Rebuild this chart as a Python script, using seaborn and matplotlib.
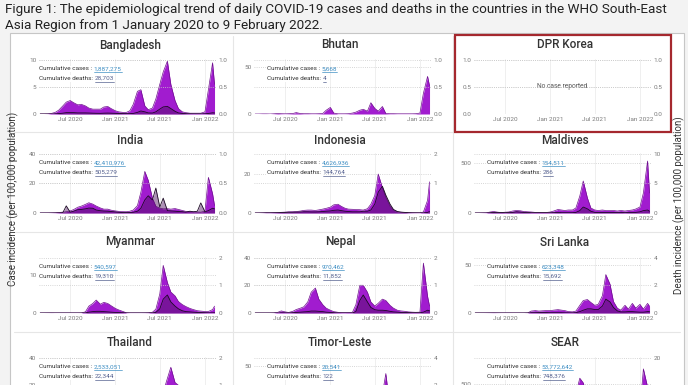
import numpy as np
import pandas as pd
import matplotlib
matplotlib.use("Agg")
import matplotlib.pyplot as plt
from matplotlib.patches import Rectangle
from matplotlib.lines import Line2D
import seaborn as sns

# semi-monthly sampling points, 1 Mar 2020 .. 9 Feb 2022 (48 points)
dates = pd.date_range("2020-03-01", "2022-02-01", freq="SMS").append(pd.DatetimeIndex(["2022-02-09"]))

# daily case incidence (per 100,000) and death incidence (per 100,000)
bangladesh_cases = [0, 0, 0.02, 0.1, 0.3, 0.7, 1.5, 2.2, 2.5, 2.1,
                    1.7, 1.8, 1.5, 1.1, 0.9, 0.9, 0.9, 1.3, 1.4, 1.0,
                    0.6, 0.4, 0.3, 0.3, 0.6, 1.8, 4.2, 4.5, 1.5, 0.8,
                    1.1, 2.8, 5.5, 7.8, 9.8, 5.5, 2.5, 1.0, 0.4, 0.25,
                    0.15, 0.15, 0.15, 0.15, 0.4, 4.5, 9.5, 5.5]
bangladesh_deaths = [0, 0, 0, 0, 0.002, 0.007, 0.015, 0.025, 0.025, 0.025,
                     0.02, 0.02, 0.02, 0.018, 0.015, 0.013, 0.012, 0.015, 0.017, 0.015,
                     0.012, 0.009, 0.007, 0.006, 0.006, 0.01, 0.03, 0.055, 0.04, 0.02,
                     0.018, 0.04, 0.09, 0.13, 0.14, 0.1, 0.05, 0.02, 0.01, 0.006,
                     0.004, 0.003, 0.003, 0.003, 0.003, 0.01, 0.022, 0.02]
bhutan_cases = [0, 0, 0.1, 0.1, 0, 0.2, 0.5, 0.3, 0.2, 0.3,
                0.5, 1.5, 0.5, 0.3, 0.3, 0.2, 0.2, 0.3, 0.5, 4,
                7, 1, 0.2, 0.2, 0.2, 0.3, 1, 2, 4, 5,
                3, 12, 6, 3, 8, 0.5, 0.3, 0.3, 0.2, 0.2,
                0.2, 0.2, 0.2, 0.3, 1, 22, 40, 30]
bhutan_deaths = [0] * 48
india_cases = [0, 0, 0.01, 0.07, 0.13, 0.28, 0.6, 0.85, 1.4, 2.3,
               3.9, 4.6, 5.8, 6.9, 6.0, 4.7, 3.4, 2.6, 2.6, 1.9,
               1.4, 1.1, 0.9, 0.85, 1.2, 2.0, 5.0, 14, 28, 22,
               10, 4.5, 3.3, 2.8, 2.9, 2.6, 3.0, 2.4, 1.7, 1.1,
               0.9, 0.8, 0.65, 0.55, 1.2, 24, 13, 5]
india_deaths = [0, 0, 0, 0, 0.001, 0.003, 0.005, 0.12, 0.014, 0.03,
                0.055, 0.06, 0.07, 0.083, 0.08, 0.05, 0.038, 0.033, 0.03, 0.025,
                0.018, 0.012, 0.008, 0.007, 0.008, 0.012, 0.03, 0.08, 0.22, 0.29,
                0.22, 0.42, 0.1, 0.25, 0.04, 0.035, 0.03, 0.025, 0.022, 0.015,
                0.03, 0.02, 0.03, 0.17, 0.02, 0.04, 0.08, 0.07]
indonesia_cases = [0, 0.01, 0.05, 0.12, 0.12, 0.18, 0.25, 0.35, 0.45, 0.6,
                   0.65, 0.75, 1.0, 1.35, 1.5, 1.5, 1.3, 1.6, 2.0, 2.4,
                   3.0, 4.2, 4.5, 3.4, 2.5, 2.0, 1.9, 1.8, 1.7, 1.5,
                   2.2, 4.5, 9, 20, 13, 8, 3.5, 1.5, 0.6, 0.4,
                   0.25, 0.15, 0.13, 0.1, 0.1, 0.5, 6.5, 16]
indonesia_deaths = [0, 0, 0.002, 0.005, 0.005, 0.006, 0.01, 0.015, 0.02, 0.025,
                    0.025, 0.03, 0.035, 0.04, 0.04, 0.035, 0.035, 0.04, 0.05, 0.06,
                    0.07, 0.09, 0.1, 0.08, 0.06, 0.05, 0.04, 0.04, 0.04, 0.06,
                    0.06, 0.1, 0.3, 0.7, 0.9, 0.6, 0.3, 0.12, 0.05, 0.03,
                    0.02, 0.01, 0.005, 0.005, 0.004, 0.004, 0.02, 0.05]
maldives_cases = [0, 0, 1, 2, 10, 15, 8, 5, 8, 10,
                  20, 25, 22, 15, 12, 10, 6, 6, 5, 5,
                  10, 20, 35, 30, 25, 30, 30, 50, 170, 320,
                  150, 50, 30, 25, 30, 25, 25, 25, 20, 25,
                  20, 25, 30, 40, 60, 200, 520, 200]
maldives_deaths = [0, 0, 0, 0, 0.05, 0.1, 0.1, 0.1, 0.05, 0.1,
                   0.1, 0.2, 0.15, 0.1, 0.1, 0.05, 0.05, 0.05, 0.05, 0.05,
                   0.05, 0.05, 0.1, 0.05, 0.05, 0.05, 0.05, 0.1, 0.4, 1.0,
                   0.7, 0.3, 0.1, 0.1, 0.1, 0.1, 0.1, 0.1, 0.1, 0.1,
                   0.05, 0.1, 0.1, 0.1, 0.2, 0.4, 0.5, 0.3]
myanmar_cases = [0, 0, 0.01, 0.02, 0.01, 0.01, 0.01, 0.01, 0.01, 0.01,
                 0.01, 0.02, 0.3, 1.8, 2.5, 3.4, 2.3, 2.8, 2.5, 1.9,
                 1.2, 0.8, 0.4, 0.05, 0.02, 0.02, 0.02, 0.02, 0.03, 0.05,
                 0.2, 1.0, 5, 12.5, 8, 5.5, 4.5, 3, 2.2, 1.7,
                 1.2, 0.9, 0.6, 0.5, 0.4, 0.4, 0.9, 1.8]
myanmar_deaths = [0, 0, 0, 0, 0, 0, 0, 0, 0, 0,
                  0, 0, 0.005, 0.03, 0.05, 0.06, 0.06, 0.05, 0.04, 0.03,
                  0.02, 0.015, 0.01, 0.003, 0.001, 0.001, 0.001, 0.001, 0.001, 0.002,
                  0.005, 0.02, 0.15, 0.5, 0.65, 0.4, 0.25, 0.15, 0.08, 0.05,
                  0.04, 0.03, 0.02, 0.015, 0.01, 0.005, 0.005, 0.01]
nepal_cases = [0, 0, 0, 0, 0.01, 0.05, 0.5, 1.5, 0.8, 0.4,
               1.2, 2.5, 3.5, 4.5, 8, 15, 18, 10, 6, 3.5,
               2.0, 1.0, 0.5, 0.3, 0.3, 0.4, 0.5, 6, 20, 20,
               15, 8, 5, 7, 10, 9, 5.5, 3.5, 2.0, 1.5,
               1.2, 0.8, 0.6, 0.5, 0.6, 36, 12, 5]
nepal_deaths = [0, 0, 0, 0, 0, 0, 0.002, 0.005, 0.005, 0.005,
                0.01, 0.02, 0.03, 0.04, 0.05, 0.07, 0.07, 0.06, 0.05, 0.03,
                0.02, 0.01, 0.005, 0.003, 0.002, 0.002, 0.003, 0.05, 0.45, 0.65,
                0.4, 0.2, 0.12, 0.1, 0.1, 0.09, 0.06, 0.04, 0.03, 0.02,
                0.02, 0.015, 0.01, 0.01, 0.01, 0.03, 0.1, 0.08]
srilanka_cases = [0, 0.01, 0.02, 0.05, 0.1, 0.15, 0.1, 0.05, 0.05, 0.05,
                  0.02, 0.02, 0.02, 0.02, 0.1, 2, 2.5, 2, 2.3, 2.5,
                  2.5, 3, 3.5, 3, 2.5, 1.5, 1.2, 2, 8, 13,
                  14, 11, 8, 9, 18, 40, 30, 12, 5, 3,
                  8, 4, 10, 5, 9, 4, 10, 7]
srilanka_deaths = [0, 0, 0, 0, 0, 0, 0, 0, 0, 0,
                   0, 0, 0, 0, 0.005, 0.02, 0.02, 0.03, 0.03, 0.03,
                   0.02, 0.02, 0.02, 0.02, 0.01, 0.01, 0.01, 0.02, 0.1, 0.2,
                   0.3, 0.3, 0.25, 0.25, 0.5, 1.0, 0.8, 0.4, 0.15, 0.08,
                   0.08, 0.1, 0.1, 0.08, 0.06, 0.06, 0.1, 0.1]
thailand_cases = [0.01, 0.1, 0.2, 0.1, 0.01, 0, 0, 0, 0, 0,
                  0, 0, 0, 0, 0, 0, 0, 0, 0, 0.3,
                  0.8, 0.4, 0.3, 0.1, 0.1, 0.1, 0.2, 1.8, 3.0, 3.5,
                  4, 5, 8, 15, 25, 33, 22, 20, 16, 15,
                  12, 10, 7, 5, 4, 11, 12, 16]
thailand_deaths = [0, 0, 0.001, 0.001, 0, 0, 0, 0, 0, 0,
                   0, 0, 0, 0, 0, 0, 0, 0, 0, 0,
                   0.001, 0.001, 0.001, 0, 0, 0, 0, 0.02, 0.04, 0.05,
                   0.05, 0.06, 0.08, 0.18, 0.3, 0.4, 0.3, 0.2, 0.15, 0.12,
                   0.08, 0.07, 0.05, 0.04, 0.03, 0.02, 0.03, 0.03]
timor_cases = [0, 0, 0.1, 0.5, 0, 0, 0, 0, 0, 0,
               0, 0, 0, 0, 0, 0, 0, 0, 0, 0,
               0, 0, 0, 0, 0.5, 5, 10, 8, 10, 12,
               8, 10, 14, 12, 20, 42, 5, 2, 1, 0.5,
               0.2, 0.1, 0.1, 0.1, 0.2, 0.5, 1, 2]
timor_deaths = [0, 0, 0, 0, 0, 0, 0, 0, 0, 0,
                0, 0, 0, 0, 0, 0, 0, 0, 0, 0,
                0, 0, 0, 0, 0, 0.05, 0.1, 0.1, 0.2, 0.2,
                0.1, 0.2, 0.3, 0.3, 0.5, 0.6, 0.2, 0.1, 0.05, 0.02,
                0, 0, 0, 0, 0, 0, 0, 0]
sear_cases = [0, 0.3, 1, 3, 5, 9, 18, 25, 38, 55,
              85, 100, 120, 135, 120, 95, 70, 60, 60, 45,
              35, 30, 25, 22, 28, 45, 110, 330, 600, 520,
              280, 160, 150, 210, 170, 130, 110, 80, 55, 40,
              30, 25, 22, 18, 40, 760, 450, 250]
sear_deaths = [0, 0, 0, 0, 0.02, 0.05, 0.1, 0.3, 0.3, 0.5,
               0.8, 0.9, 1.0, 1.2, 1.1, 0.8, 0.6, 0.5, 0.5, 0.4,
               0.3, 0.25, 0.2, 0.15, 0.15, 0.2, 0.5, 1.6, 4.5, 6.0,
               4.5, 3.0, 2.0, 2.2, 2.0, 1.5, 1.0, 0.7, 0.5, 0.4,
               0.4, 0.3, 0.3, 0.3, 0.3, 0.8, 1.8, 1.5]

countries = ["Bangladesh", "Bhutan", "DPR Korea", "India", "Indonesia", "Maldives",
             "Myanmar", "Nepal", "Sri Lanka", "Thailand", "Timor-Leste", "SEAR"]
cum_cases = ["1,887,275", "5,668", None, "42,410,976", "4,626,936", "154,511",
             "540,597", "970,462", "623,348", "2,533,051", "20,541", "53,772,642"]
cum_deaths = ["28,703", "4", None, "505,279", "144,764", "286",
              "19,310", "11,852", "15,692", "22,344", "122", "748,376"]
case_series = [bangladesh_cases, bhutan_cases, None, india_cases, indonesia_cases, maldives_cases,
               myanmar_cases, nepal_cases, srilanka_cases, thailand_cases, timor_cases, sear_cases]
death_series = [bangladesh_deaths, bhutan_deaths, None, india_deaths, indonesia_deaths, maldives_deaths,
                myanmar_deaths, nepal_deaths, srilanka_deaths, thailand_deaths, timor_deaths, sear_deaths]

# axis setup per panel: left ylim top, left ticks, right ylim top, right ticks
left_top = [10.2, 58.5, 1.01, 40.4, 30.8, 600, 14.7, 40.4, 58.3, 40.4, 59.6, 965]
left_ticks = [[0, 5, 10], [0, 50], [0.0, 0.5, 1.0], [0, 20, 40], [0, 20], [0, 500],
              [0, 10], [0, 20, 40], [0, 50], [20, 40], [50], [500]]
right_top = [1.01, 1.01, 1.01, 1.01, 2.02, 10.1, 2.02, 2.02, 4.04, 2.02, 4.04, 20.2]
right_ticks = [[0.0, 0.5, 1.0], [0.0, 0.5, 1.0], [0.0, 0.5, 1.0], [0.0, 0.5, 1.0], [0, 1, 2], [0, 5, 10],
               [0, 1, 2], [0, 1, 2], [0, 2, 4], [1, 2], [2, 4], [20]]
xtick_dates = pd.to_datetime(["2020-07-01", "2021-01-01", "2021-07-01", "2022-01-01"])
xtick_labels = ["Jul 2020", "Jan 2021", "Jul 2021", "Jan 2022"]

sns.set_style("white")
plt.rcParams["font.family"] = ["Roboto", "DejaVu Sans"]

W, H = 688, 385
fig = plt.figure(figsize=(W / 100, H / 100), dpi=100)
fig.patch.set_facecolor("#f3f3f3")


def fx(x):
    return x / W


def fy(y):
    return 1 - y / H


# white frame holding the panels
fig.add_artist(Rectangle((fx(10), fy(420)), fx(684) - fx(10), fy(33) - fy(420),
                         transform=fig.transFigure, facecolor="white", edgecolor="#c6c6c6", lw=0.8, zorder=0))
for sx in [233, 453]:
    fig.add_artist(Line2D([fx(sx), fx(sx)], [fy(36), fy(400)], transform=fig.transFigure,
                          color="#e6e6e6", lw=0.8, zorder=0.5))
for sy in [132, 232, 332]:
    fig.add_artist(Line2D([fx(14), fx(680)], [fy(sy), fy(sy)], transform=fig.transFigure,
                          color="#e6e6e6", lw=0.8, zorder=0.5))

fig.text(fx(5), fy(9), "Figure 1: The epidemiological trend of daily COVID-19 cases and deaths in the countries in the WHO South-East",
         fontsize=9.7, color="#222222", va="center", ha="left")
fig.text(fx(5), fy(25), "Asia Region from 1 January 2020 to 9 February 2022.",
         fontsize=9.7, color="#222222", va="center", ha="left")

col_left = [39, 254, 474]
col_title = [130, 340, 565]
col_text = [39, 267, 487]
row_top = [59, 153, 257, 357]
row_bot = [114, 213, 313, 413]
row_title = [45, 140, 242, 343]
axw = 177
x0, x1 = pd.Timestamp("2020-02-25"), pd.Timestamp("2022-02-15")

case_fill = "#a11ccf"
case_edge = "#6e0f8e"
death_fill = "#4a0b5c"
death_line = "#1c0a24"
tick_kw = dict(length=0, labelsize=4.6, labelcolor="#7a7a7a", pad=2)
grid_kw = dict(color="#c9c9c9", lw=0.6, linestyle=(0, (1, 1.6)))


def fmt(v):
    return f"{v:.1f}" if isinstance(v, float) else str(v)


pending = []
for i, name in enumerate(countries):
    r, c = divmod(i, 3)
    L, T, B = col_left[c], row_top[r], row_bot[r]
    ax = fig.add_axes([fx(L), fy(B), axw / W, (B - T) / H])
    ax.set_facecolor("none")
    ax2 = ax.twinx()

    if case_series[i] is not None:
        cs = np.array(case_series[i], dtype=float)
        ds = np.array(death_series[i], dtype=float)
        ax.fill_between(dates, 0, cs, color=case_fill, lw=0, zorder=2)
        sns.lineplot(x=dates, y=cs, ax=ax, color=case_edge, lw=0.5, zorder=3)
        ax2.fill_between(dates, 0, ds, color=death_fill, alpha=0.45, lw=0, zorder=2)
        sns.lineplot(x=dates, y=ds, ax=ax2, color=death_line, lw=0.6, zorder=3)
    else:
        ax.text(0.5, 0.5, "No case reported", transform=ax.transAxes, ha="center", va="center",
                fontsize=4.8, color="#555555")

    ax.set_xlim(x0, x1)
    ax.set_ylim(0, left_top[i])
    ax2.set_ylim(0, right_top[i])
    ax.set_xticks(xtick_dates)
    # bottom row lies below the crop: its date labels are not shown
    ax.set_xticklabels(xtick_labels if r < 3 else [""] * len(xtick_labels))
    ax.set_yticks(left_ticks[i])
    ax.set_yticklabels([fmt(v) for v in left_ticks[i]])
    ax2.set_yticks(right_ticks[i])
    ax2.set_yticklabels([fmt(v) for v in right_ticks[i]])
    ax.set_xlabel("")
    ax.set_ylabel("")
    ax2.set_ylabel("")
    ax.tick_params(axis="both", **tick_kw)
    ax2.tick_params(axis="y", **tick_kw)
    ax.xaxis.grid(True, color="#ededed", lw=0.6, linestyle="-")
    ax.yaxis.grid(True, **grid_kw)
    ax2.yaxis.grid(True, **grid_kw)
    ax2.xaxis.grid(False)
    ax.set_axisbelow(True)
    ax2.set_axisbelow(True)
    for a in (ax, ax2):
        for s in a.spines.values():
            s.set_visible(False)

    fig.text(fx(col_title[c]), fy(row_title[r]), name, ha="center", va="center",
             fontsize=8.5, color="#333333", fontweight="medium")

    if cum_cases[i] is not None:
        for k, (lab, num, col) in enumerate([("Cumulative cases : ", cum_cases[i], "#3f8fc4"),
                                              ("Cumulative deaths: ", cum_deaths[i], "#55618f")]):
            t = fig.text(fx(col_text[c]), fy(T + 10 + 9.5 * k), lab, ha="left", va="center",
                         fontsize=4.6, color="#333333",
                         bbox=dict(facecolor="white", edgecolor="none", pad=0.6), zorder=5)
            pending.append((t, num, col))

# DPR Korea highlight box
fig.add_artist(Rectangle((fx(455), fy(132)), fx(671) - fx(455), fy(35) - fy(132),
                         transform=fig.transFigure, facecolor="none", edgecolor="#a5282e", lw=1.6, zorder=6))

fig.text(fx(13), fy(199), "Case incidence (per 100,000 population)", rotation=90,
         ha="center", va="center", fontsize=7.0, color="#333333")
fig.text(fx(679), fy(205), "Death incidence (per 100,000 population)", rotation=90,
         ha="center", va="center", fontsize=7.0, color="#333333")

# cumulative numbers placed after their labels, underlined
fig.canvas.draw()
renderer = fig.canvas.get_renderer()
inv = fig.transFigure.inverted()
numbers = []
for t, num, col in pending:
    bb = t.get_window_extent(renderer)
    px, py = inv.transform((bb.x1, (bb.y0 + bb.y1) / 2))
    n = fig.text(px, py, num, ha="left", va="center", fontsize=4.6, color=col, zorder=6)
    numbers.append((n, col))
fig.canvas.draw()
for n, col in numbers:
    bb = n.get_window_extent(renderer)
    (ax0, ay0), (ax1, ay1) = inv.transform([(bb.x0, bb.y0 - 0.5), (bb.x1, bb.y0 - 0.5)])
    fig.add_artist(Line2D([ax0, ax1], [ay0, ay1], transform=fig.transFigure, color=col, lw=0.5, zorder=6))

fig.savefig("out.png", dpi=100, facecolor=fig.get_facecolor())
